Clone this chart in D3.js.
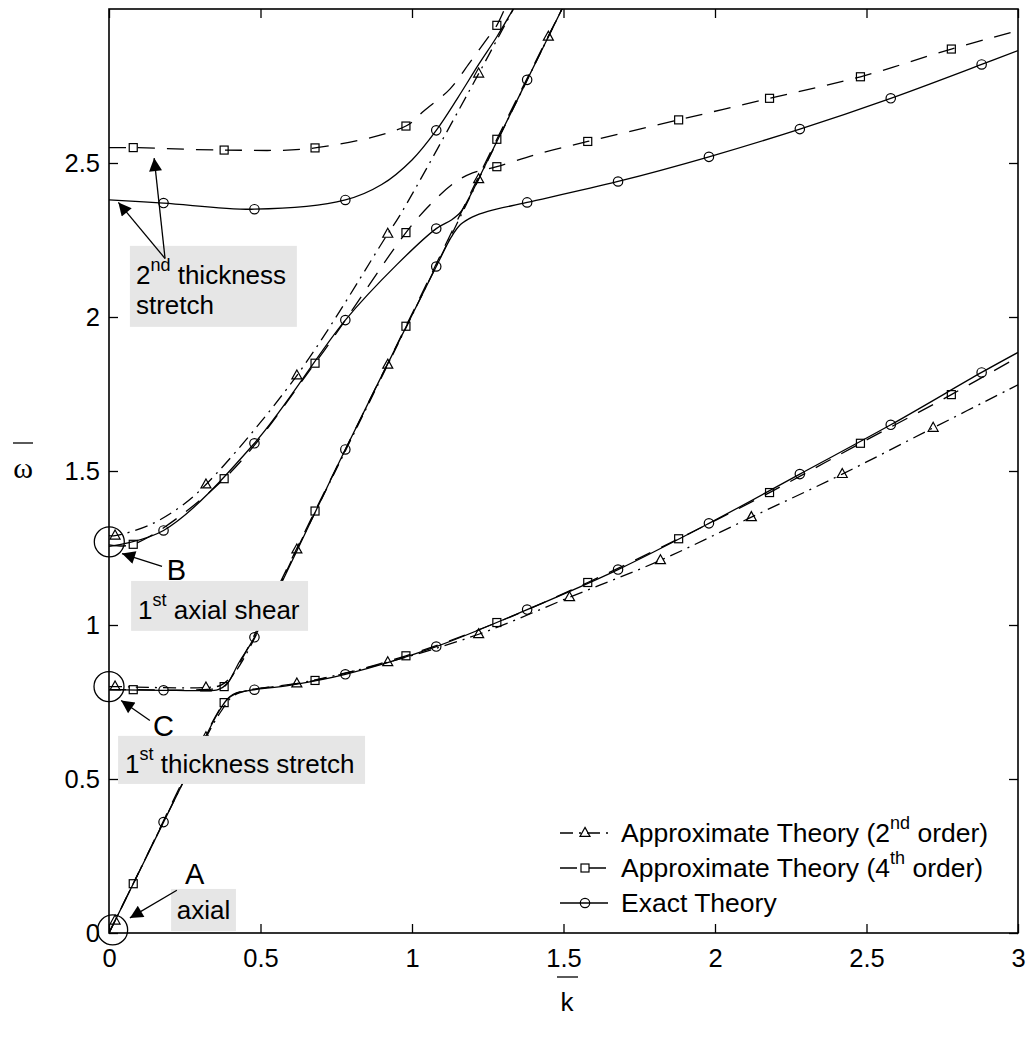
<!DOCTYPE html>
<html>
<head>
<meta charset="utf-8">
<script src="https://cdn.jsdelivr.net/npm/d3@7/dist/d3.min.js"></script>
<style>
  body { margin: 0; background: #fff; }
  svg { display: block; }
</style>
</head>
<body>
<script>
// tick labels
const xTicks = [0, 0.5, 1, 1.5, 2, 2.5, 3];
const yTicks = [0, 0.5, 1, 1.5, 2, 2.5];

// exact theory, 4 branches [k, omega]
const exact1 = [[0,0],[0.18,0.36],[0.3,0.6],[0.36,0.715],[0.39,0.758],[0.42,0.778],[0.46,0.787],[0.6,0.805],[0.78,0.84],[1.08,0.93],[1.38,1.05],[1.68,1.18],[1.98,1.33],[2.28,1.49],[2.58,1.65],[2.88,1.82],[3,1.885]];
const exact2 = [[0,0.79],[0.18,0.788],[0.3,0.787],[0.36,0.79],[0.39,0.81],[0.43,0.88],[0.48,0.96],[0.78,1.57],[1.08,2.164],[1.13,2.26],[1.16,2.3],[1.2,2.325],[1.25,2.343],[1.38,2.372],[1.68,2.44],[1.98,2.52],[2.28,2.61],[2.58,2.71],[2.88,2.82],[3,2.865]];
const exact3 = [[0,1.255],[0.18,1.307],[0.48,1.59],[0.78,1.99],[0.95,2.17],[1.08,2.287],[1.13,2.315],[1.16,2.34],[1.19,2.39],[1.25,2.51],[1.38,2.77],[1.5,3.01]];
const exact4 = [[0,2.38],[0.18,2.37],[0.48,2.35],[0.78,2.38],[0.9,2.43],[1.0,2.51],[1.08,2.606],[1.15,2.71],[1.22,2.82],[1.28,2.91],[1.34,3.01]];
const exactMarks = [[0.18,0.36],[0.48,0.79],[0.78,0.84],[1.08,0.93],[1.38,1.05],[1.68,1.18],[1.98,1.33],[2.28,1.49],[2.58,1.65],[2.88,1.82],
  [0.18,0.788],[0.48,0.96],[0.78,1.57],[1.08,2.164],[1.38,2.372],[1.68,2.44],[1.98,2.52],[2.28,2.61],[2.58,2.71],[2.88,2.82],
  [0.18,1.307],[0.48,1.59],[0.78,1.99],[1.08,2.287],[1.38,2.77],
  [0.18,2.37],[0.48,2.35],[0.78,2.38],[1.08,2.606]];

// approximate theory, 4th order
const fourth1 = [[0,0],[0.08,0.16],[0.38,0.748],[0.41,0.775],[0.45,0.787],[0.68,0.82],[0.98,0.9],[1.28,1.008],[1.58,1.138],[1.88,1.28],[2.18,1.43],[2.48,1.59],[2.78,1.748],[3,1.87]];
const fourth2 = [[0,0.79],[0.08,0.79],[0.3,0.79],[0.38,0.8],[0.41,0.84],[0.45,0.91],[0.68,1.37],[0.98,1.97],[1.28,2.577],[1.5,3.01]];
const fourth3 = [[0,1.26],[0.08,1.262],[0.38,1.475],[0.68,1.85],[0.98,2.274],[1.065,2.37],[1.14,2.436],[1.2,2.468],[1.28,2.488],[1.41,2.528],[1.58,2.57],[1.88,2.64],[2.18,2.71],[2.48,2.78],[2.78,2.87],[3,2.93]];
const fourth4 = [[0,2.55],[0.08,2.55],[0.38,2.542],[0.68,2.549],[0.98,2.62],[1.04,2.67],[1.125,2.74],[1.19,2.825],[1.25,2.906],[1.28,2.947],[1.31,3.01]];
const fourthMarks = [[0.08,0.16],[0.38,0.748],[0.68,0.82],[0.98,0.9],[1.28,1.008],[1.58,1.138],[1.88,1.28],[2.18,1.43],[2.48,1.59],[2.78,1.748],
  [0.08,0.79],[0.38,0.8],[0.68,1.37],[0.98,1.97],[1.28,2.577],
  [0.08,1.262],[0.38,1.475],[0.68,1.85],[0.98,2.274],[1.28,2.488],[1.58,2.57],[1.88,2.64],[2.18,2.71],[2.48,2.78],[2.78,2.87],
  [0.08,2.55],[0.38,2.542],[0.68,2.549],[0.98,2.62],[1.28,2.947]];

// approximate theory, 2nd order
const second1 = [[0,0],[0.02,0.04],[0.32,0.635],[0.37,0.72],[0.41,0.77],[0.46,0.788],[0.62,0.81],[0.92,0.879],[1.22,0.97],[1.52,1.09],[1.82,1.21],[2.12,1.35],[2.42,1.49],[2.72,1.64],[3,1.78]];
const second2 = [[0,0.8],[0.02,0.8],[0.32,0.797],[0.37,0.805],[0.41,0.84],[0.45,0.9],[0.62,1.245],[0.92,1.845],[1.22,2.447],[1.45,2.91],[1.5,3.01]];
const second3 = [[0,1.29],[0.02,1.29],[0.13,1.323],[0.23,1.38],[0.32,1.456],[0.62,1.81],[0.92,2.27],[0.96,2.33],[1.22,2.79],[1.34,3.01]];
const secondMarks = [[0.02,0.04],[0.32,0.635],[0.62,0.81],[0.92,0.879],[1.22,0.97],[1.52,1.09],[1.82,1.21],[2.12,1.35],[2.42,1.49],[2.72,1.64],
  [0.02,0.8],[0.32,0.797],[0.62,1.245],[0.92,1.845],[1.22,2.447],[1.45,2.91],
  [0.02,1.29],[0.32,1.456],[0.62,1.81],[0.92,2.27],[1.22,2.79]];

const W = 1032, H = 1037;
const margin = {top: 9, right: 14, bottom: 104, left: 109};
const innerW = W - margin.left - margin.right;
const innerH = H - margin.top - margin.bottom;
const FONT = "'Liberation Sans', Arial, Helvetica, sans-serif";

const svg = d3.select('body').append('svg').attr('width', W).attr('height', H)
  .style('font-family', FONT);

const x = d3.scaleLinear().domain([0, 3]).range([0, innerW]);
const y = d3.scaleLinear().domain([0, 3]).range([innerH, 0]);

svg.append('defs').append('clipPath').attr('id', 'plotclip')
  .append('rect').attr('width', innerW).attr('height', innerH);
svg.select('defs').append('marker').attr('id', 'arrowhead')
  .attr('viewBox', '0 0 10 10').attr('refX', 10).attr('refY', 5)
  .attr('markerUnits', 'userSpaceOnUse').attr('markerWidth', 16).attr('markerHeight', 13)
  .attr('orient', 'auto')
  .append('path').attr('d', 'M0,0 L10,5 L0,10 Z').attr('fill', '#000');

const g = svg.append('g').attr('transform', `translate(${margin.left},${margin.top})`);

// axes (ticks inside, box all round)
const xAxis = d3.axisBottom(x).tickValues(xTicks).tickFormat(d3.format('')).tickSizeInner(-9).tickSizeOuter(0).tickPadding(16);
const yAxis = d3.axisLeft(y).tickValues(yTicks).tickFormat(d3.format('')).tickSizeInner(-9).tickSizeOuter(0).tickPadding(9);
const xAxisG = g.append('g').attr('transform', `translate(0,${innerH})`).call(xAxis);
const yAxisG = g.append('g').call(yAxis);
g.append('g').call(d3.axisTop(x).tickValues(xTicks).tickFormat('').tickSizeInner(-9).tickSizeOuter(0));
g.append('g').attr('transform', `translate(${innerW},0)`).call(d3.axisRight(y).tickValues(yTicks).tickFormat('').tickSizeInner(-9).tickSizeOuter(0));
g.selectAll('.tick line').attr('stroke', '#000').attr('stroke-width', 1.3);
g.selectAll('.domain').attr('stroke', 'none');
[xAxisG, yAxisG].forEach(a => a.selectAll('text').attr('font-size', '25.5px').attr('font-family', FONT).attr('fill', '#000'));

// curves
const line = d3.line().x(d => x(d[0])).y(d => y(d[1])).curve(d3.curveCatmullRom.alpha(0.5));
const plot = g.append('g').attr('clip-path', 'url(#plotclip)');

const styles = {
  exact:  {dash: null},
  fourth: {dash: '17,12'},
  second: {dash: '13,6,2,6'}
};
const seriesList = [
  {key: 'second', data: [second1, second2, second3]},
  {key: 'fourth', data: [fourth1, fourth2, fourth3, fourth4]},
  {key: 'exact',  data: [exact1, exact2, exact3, exact4]}
];
seriesList.forEach(s => {
  plot.selectAll(null).data(s.data).enter().append('path')
    .attr('d', line).attr('fill', 'none').attr('stroke', '#000').attr('stroke-width', 1.3)
    .attr('stroke-dasharray', styles[s.key].dash);
});

// markers
const triPath = 'M0,-5.6 L5,3.4 L-5,3.4 Z';
function drawMark(sel, kind) {
  if (kind === 'exact') sel.append('circle').attr('r', 4.7);
  else if (kind === 'fourth') sel.append('rect').attr('x', -4).attr('y', -4).attr('width', 8).attr('height', 8);
  else sel.append('path').attr('d', triPath);
  sel.selectAll('*').attr('fill', 'none').attr('stroke', '#000').attr('stroke-width', 1.2);
}
[['second', secondMarks], ['fourth', fourthMarks], ['exact', exactMarks]].forEach(([kind, pts]) => {
  pts.forEach(p => {
    const m = plot.append('g').attr('transform', `translate(${x(p[0])},${y(p[1])})`);
    drawMark(m, kind);
  });
});

// frame
g.append('rect').attr('width', innerW).attr('height', innerH)
  .attr('fill', 'none').attr('stroke', '#000').attr('stroke-width', 1.6);

// text with superscripts
function richText(parent, px, py, parts, size) {
  const t = parent.append('text').attr('x', px).attr('y', py).attr('font-size', size + 'px').attr('fill', '#000');
  let raised = 0;
  parts.forEach(p => {
    const sup = typeof p !== 'string';
    const s = t.append('tspan').text(sup ? p.sup : p);
    if (sup) { raised = Math.round(size * 0.5); s.attr('font-size', Math.round(size * 0.68) + 'px').attr('dy', -raised); }
    else if (raised) { s.attr('dy', raised); raised = 0; }
  });
  return t;
}

// annotation labels in grey boxes (k, omega positions)
const boxes = [
  {k0: 0.205, k1: 0.419, w0: 0.143, w1: 0.006, lines: [{k: 0.224, w: 0.045, parts: ['axial']}]},
  {k0: 0.073, k1: 0.657, w0: 1.143, w1: 0.981, lines: [{k: 0.096, w: 1.019, parts: ['1', {sup: 'st'}, ' axial shear']}]},
  {k0: 0.030, k1: 0.845, w0: 0.640, w1: 0.484, lines: [{k: 0.053, w: 0.519, parts: ['1', {sup: 'st'}, ' thickness stretch']}]},
  {k0: 0.069, k1: 0.620, w0: 2.231, w1: 1.968, lines: [{k: 0.089, w: 2.107, parts: ['2', {sup: 'nd'}, ' thickness']}, {k: 0.089, w: 2.010, parts: ['stretch']}]}
];
boxes.forEach(b => {
  g.append('rect').attr('x', x(b.k0)).attr('y', y(b.w0))
    .attr('width', x(b.k1) - x(b.k0)).attr('height', y(b.w1) - y(b.w0)).attr('fill', '#e6e6e6');
  b.lines.forEach(l => richText(g, x(l.k), y(l.w), l.parts, 26));
});

// circled points and arrows
const rings = [[0.012, 0.01], [0.001, 1.27], [0.0, 0.80]];
rings.forEach(r => g.append('circle').attr('cx', x(r[0])).attr('cy', y(r[1])).attr('r', 15)
  .attr('fill', 'none').attr('stroke', '#000').attr('stroke-width', 1.3));

const arrows = [
  [0.224, 0.139, 0.069, 0.049],
  [0.175, 1.19, 0.043, 1.232],
  [0.135, 0.69, 0.04, 0.755],
  [0.185, 2.19, 0.149, 2.516],
  [0.185, 2.19, 0.031, 2.372]
];
arrows.forEach(a => g.append('line').attr('x1', x(a[0])).attr('y1', y(a[1])).attr('x2', x(a[2])).attr('y2', y(a[3]))
  .attr('stroke', '#000').attr('stroke-width', 1.3).attr('marker-end', 'url(#arrowhead)'));

const letters = [['A', 0.251, 0.159], ['B', 0.191, 1.145], ['C', 0.145, 0.64]];
letters.forEach(l => g.append('text').attr('x', x(l[1])).attr('y', y(l[2])).attr('font-size', '29px').text(l[0]));

// legend
const legendRows = [
  {kind: 'second', parts: ['Approximate Theory (2', {sup: 'nd'}, ' order)']},
  {kind: 'fourth', parts: ['Approximate Theory (4', {sup: 'th'}, ' order)']},
  {kind: 'exact',  parts: ['Exact Theory']}
];
legendRows.forEach((r, i) => {
  const by = 842 - margin.top + i * 35;
  const lx = 560 - margin.left;
  g.append('line').attr('x1', lx).attr('x2', lx + 48).attr('y1', by - 9).attr('y2', by - 9)
    .attr('stroke', '#000').attr('stroke-width', 1.3).attr('stroke-dasharray', styles[r.kind].dash);
  drawMark(g.append('g').attr('transform', `translate(${lx + 25},${by - 9})`), r.kind);
  richText(g, 621 - margin.left, by, r.parts, 26.5);
});

// axis labels with overbars
svg.append('text').attr('x', 23).attr('y', 478).attr('text-anchor', 'middle')
  .attr('font-family', "'Liberation Serif', 'Times New Roman', serif").attr('font-size', '30px').text('ω');
svg.append('line').attr('x1', 13).attr('x2', 33).attr('y1', 443).attr('y2', 443).attr('stroke', '#000').attr('stroke-width', 1.3);
svg.append('text').attr('x', 567).attr('y', 1011).attr('text-anchor', 'middle').attr('font-size', '26px').text('k');
svg.append('line').attr('x1', 557).attr('x2', 578).attr('y1', 977).attr('y2', 977).attr('stroke', '#000').attr('stroke-width', 1.3);
</script>
</body>
</html>
